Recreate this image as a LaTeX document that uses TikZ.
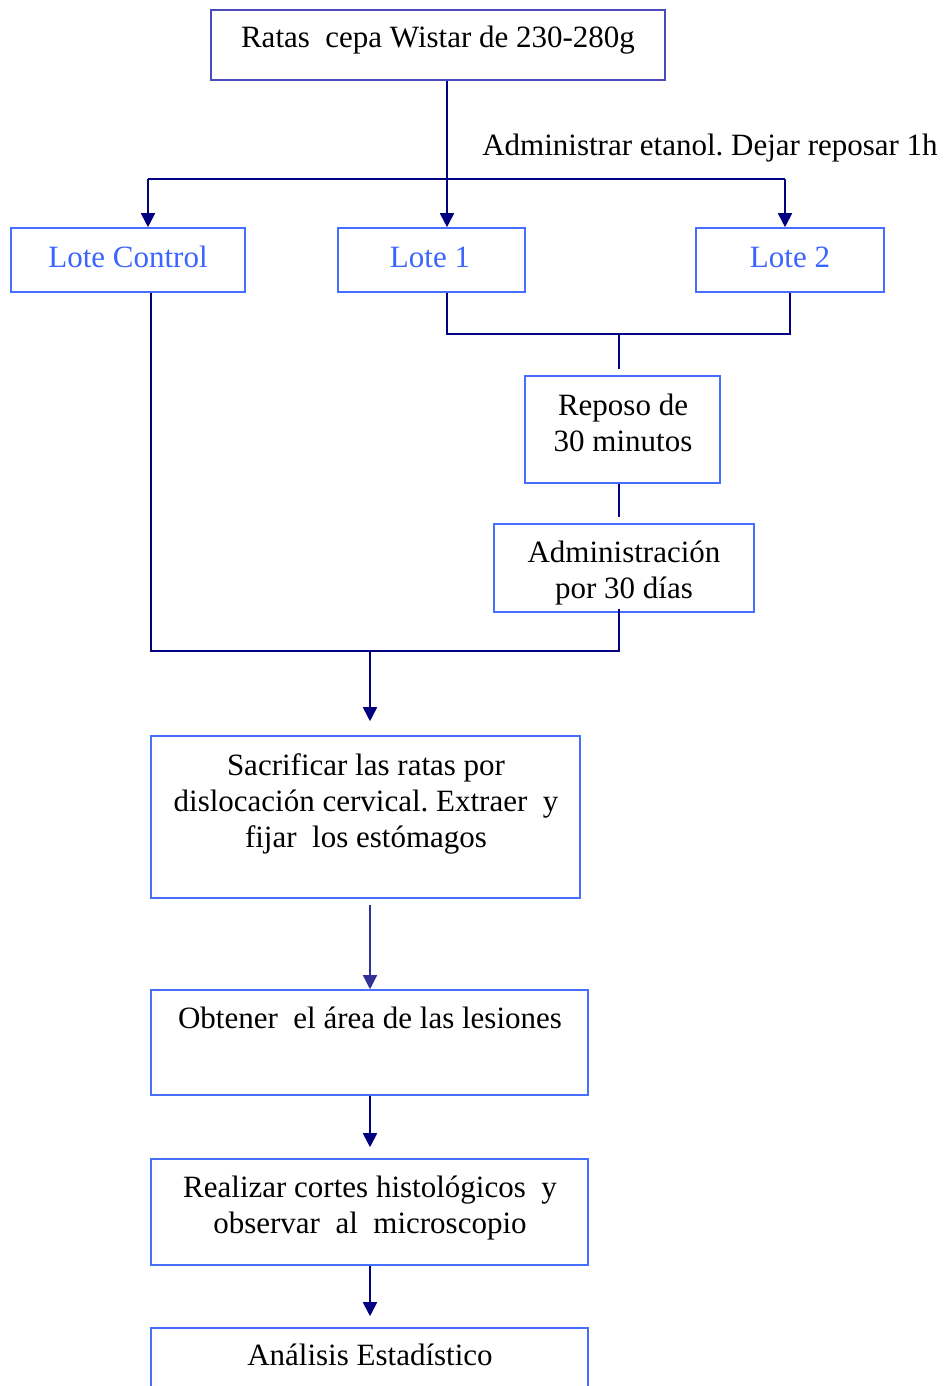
\documentclass[tikz,border=0pt]{standalone}
\usepackage{fontspec}
\setmainfont{Liberation Serif}
\usetikzlibrary{arrows.meta,calc}
\definecolor{navy}{RGB}{0,0,128}
\definecolor{boxblue}{RGB}{70,110,255}
\definecolor{topblue}{RGB}{75,75,190}
\definecolor{lotetext}{RGB}{60,100,255}
\definecolor{softnavy}{RGB}{50,50,150}
\frenchspacing

\begin{document}
\begin{tikzpicture}[x=1pt,y=-1pt,
  box/.style={draw=boxblue, line width=1.6pt, fill=white, inner sep=0pt},
  txt/.style={font=\fontsize{31}{36}\selectfont, align=center, inner sep=0pt, anchor=base},
  lote/.style={txt, text=lotetext},
  conn/.style={draw=navy, line width=1.8pt},
  arr/.style={conn, -{Triangle[length=14pt,width=14pt]}},
]
\clip (0,0) rectangle (945,1386);
\fill[white] (0,0) rectangle (945,1386);

% boxes
\node[box, draw=topblue, minimum width=454pt, minimum height=70pt] (rats) at (438,45) {};
\node[box, minimum width=234pt, minimum height=64pt] (ctrl) at (128,260) {};
\node[box, minimum width=187pt, minimum height=64pt] (lote1) at (431.5,260) {};
\node[box, minimum width=188pt, minimum height=64pt] (lote2) at (790,260) {};
\node[box, minimum width=195pt, minimum height=107pt] (reposo) at (622.5,429.5) {};
\node[box, minimum width=260pt, minimum height=88pt] (admin) at (624,568) {};
\node[box, minimum width=429pt, minimum height=162pt] (sacr) at (365.5,817) {};
\node[box, minimum width=437pt, minimum height=105pt] (obt) at (369.5,1042.5) {};
\node[box, minimum width=437pt, minimum height=106pt] (real) at (369.5,1212) {};
\node[box, minimum width=437pt, minimum height=110pt] (anal) at (369.5,1383) {};

% texts (multi-line texts are placed by the baseline of their last line)
\node[txt] (rats-t) at (438,48) {Ratas\ \ cepa Wistar de 230-280g};
\node[txt] (etanol) at (710,155) {Administrar etanol. Dejar reposar 1h};
\node[lote] (ctrl-t) at (128,267) {Lote Control};
\node[lote] (lote1-t) at (430,267) {Lote 1};
\node[lote] (lote2-t) at (790,267) {Lote 2};
\node[txt] (reposo-t) at (623,451) {Reposo de\\30 minutos};
\node[txt] (admin-t) at (624,598) {Administración\\por 30 días};
\node[txt] (sacr-t) at (366,847) {Sacrificar las ratas por\\dislocación cervical. Extraer\ \ y\\fijar\ \ los estómagos};
\node[txt] (obt-t) at (370,1028) {Obtener\ \ el área de las lesiones};
\node[txt] (real-t) at (370,1233) {Realizar cortes histológicos\ \ y\\observar\ \ al\ \ microscopio};
\node[txt] (anal-t) at (370,1365) {Análisis Estadístico};

% distribution to the three groups
\coordinate (hub) at (447,179);
\coordinate (cA) at (148,179);
\coordinate (cB) at (785,179);
\draw[arr] (rats.south -| hub) -- (lote1.north -| hub);
\draw[conn] (cA) -- (cB);
\draw[arr] (cA) -- (ctrl.north -| cA);
\draw[arr] (cB) -- (lote2.north -| cB);

% treated groups join
\coordinate (j1) at (447,334);
\coordinate (j2) at (790,334);
\coordinate (jm) at (619,334);
\draw[conn] (lote1.south -| j1) -- (j1) -- (j2) -- (lote2.south -| j2);
\draw[conn] (jm) -- ($(reposo.north -| jm)+(0,-6)$);
\draw[conn] (reposo.south -| jm) -- ($(admin.north -| jm)+(0,-6)$);

% all groups merge
\coordinate (k1) at (151,651);
\coordinate (k2) at (619,651);
\coordinate (km) at (370,651);
\draw[conn] (ctrl.south -| k1) -- (k1) -- (k2) -- ($(admin.south -| k2)+(0,-4)$);
\draw[arr] (km) -- ($(sacr.north -| km)+(0,-14)$);

% final sequence
\draw[arr, draw=softnavy, line width=1.4pt, -{Triangle[length=14pt,width=14pt]}]
  ($(sacr.south -| km)+(0,6)$) -- (obt.north -| km);
\draw[arr] (obt.south -| km) -- ($(real.north -| km)+(0,-11)$);
\draw[arr] (real.south -| km) -- ($(anal.north -| km)+(0,-11)$);
\end{tikzpicture}
\end{document}
